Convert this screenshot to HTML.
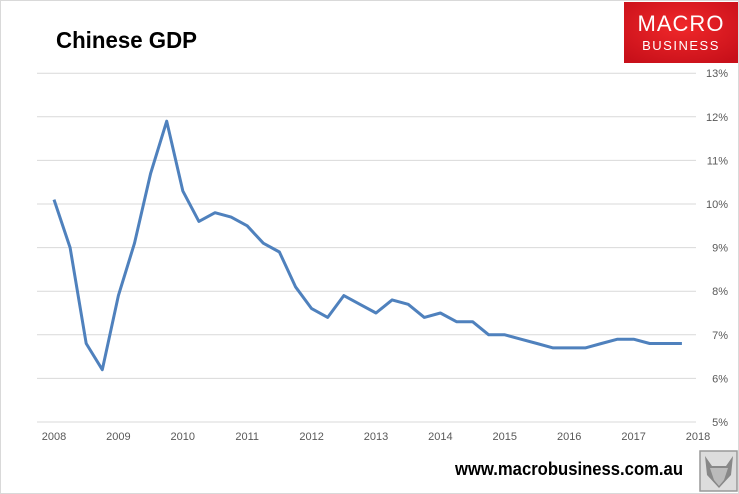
<!DOCTYPE html>
<html><head><meta charset="utf-8"><style>
body{margin:0;background:#fff;}
svg{display:block;font-family:"Liberation Sans",sans-serif;}
</style></head><body>
<svg id="chart" width="739" height="494">
<rect x="0.5" y="0.5" width="738" height="493" fill="#fff" stroke="#d9d9d9"/>
<text x="56" y="48" font-size="23" font-weight="bold" fill="#000" textLength="141" lengthAdjust="spacingAndGlyphs">Chinese GDP</text>
<g>
<defs><radialGradient id="rg" cx="0.5" cy="0.4" r="0.7"><stop offset="0" stop-color="#f0282a"/><stop offset="1" stop-color="#c8101a"/></radialGradient></defs>
<rect x="624" y="2" width="114" height="61" fill="url(#rg)"/>
<text x="681" y="31" font-size="22" fill="#fff" text-anchor="middle" letter-spacing="1">MACRO</text>
<text x="681" y="50" font-size="13" fill="#fff" text-anchor="middle" letter-spacing="1.5">BUSINESS</text>
</g>
<g id="grid"></g>
<g id="yt"></g>
<g id="xt"></g>
<path id="line" fill="none" stroke="#4f81bd" stroke-width="3" stroke-linejoin="round"/>
<text x="455" y="475" font-size="18" font-weight="bold" fill="#000" textLength="228" lengthAdjust="spacingAndGlyphs">www.macrobusiness.com.au</text>
<g>
<rect x="700" y="451" width="37" height="40" fill="#ddd" stroke="#999" stroke-width="1.5"/>
<polygon points="705,456 712,466 726,466 733,456 731,475 719,488 707,475" fill="#888"/>
<polygon points="710,468 728,468 724,480 719,486 714,480" fill="#bbb"/>
</g>
</svg>
<script>
const yearLabels=["2008","2009","2010","2011","2012","2013","2014","2015","2016","2017","2018"];
const yTicks=[5,6,7,8,9,10,11,12,13];
const gdp=[10.1,9.0,6.8,6.2,7.9,9.1,10.7,11.9,10.3,9.6,9.8,9.7,9.5,9.1,8.9,8.1,7.6,7.4,7.9,7.7,7.5,7.8,7.7,7.4,7.5,7.3,7.3,7.0,7.0,6.9,6.8,6.7,6.7,6.7,6.8,6.9,6.9,6.8,6.8,6.8];
const NS="http://www.w3.org/2000/svg";
const x=t=>54+t*64.4;
const y=v=>422-(v-5)*43.6;
const grid=document.getElementById('grid'),yt=document.getElementById('yt'),xt=document.getElementById('xt');
yTicks.forEach(v=>{
 const l=document.createElementNS(NS,'line');
 l.setAttribute('x1',37);l.setAttribute('x2',696);l.setAttribute('y1',y(v));l.setAttribute('y2',y(v));
 l.setAttribute('stroke','#d9d9d9');l.setAttribute('stroke-width',1);
 
 
 grid.appendChild(l);
 const t=document.createElementNS(NS,'text');
 t.setAttribute('x',728);t.setAttribute('y',y(v)+4);t.setAttribute('font-size',11);t.setAttribute('fill','#595959');t.setAttribute('text-anchor','end');
 t.textContent=v+'%';
 
 
 yt.appendChild(t);
});
yearLabels.forEach((s,i)=>{
 const t=document.createElementNS(NS,'text');
 t.setAttribute('x',x(i));t.setAttribute('y',440);t.setAttribute('font-size',11);t.setAttribute('fill','#595959');t.setAttribute('text-anchor','middle');
 t.textContent=s;
 
 
 xt.appendChild(t);
});
document.getElementById('line').setAttribute('d',gdp.map((v,i)=>(i?'L':'M')+x(i/4).toFixed(1)+','+y(v).toFixed(1)).join(''));
</script>
</body></html>
